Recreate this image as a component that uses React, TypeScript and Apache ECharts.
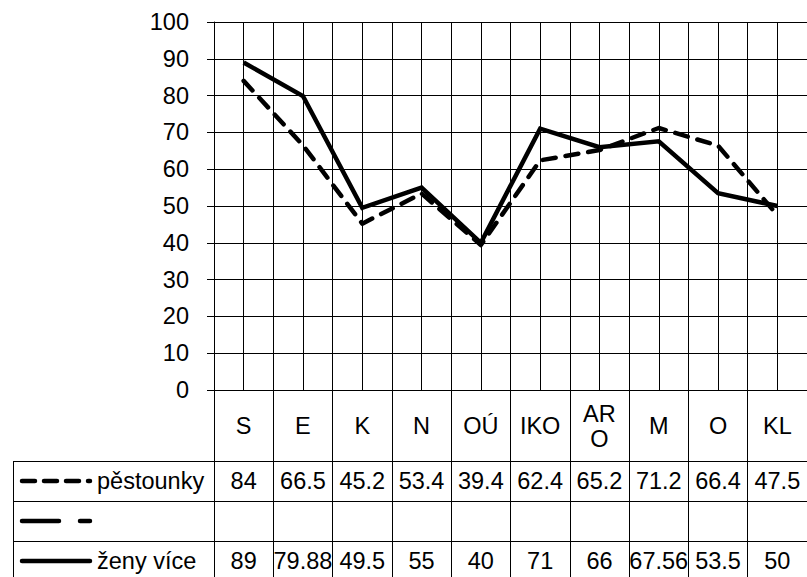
import React, { useEffect, useRef } from "react";
import * as echarts from "echarts";

const categories = ["S", "E", "K", "N", "OÚ", "IKO", "AR\nO", "M", "O", "KL"];
const pestounky = [84, 66.5, 45.2, 53.4, 39.4, 62.4, 65.2, 71.2, 66.4, 47.5];
const unnamedSeries: (number | null)[] = [null, null, null, null, null, null, null, null, null, null];
const zenyVice = [89, 79.88, 49.5, 55, 40, 71, 66, 67.56, 53.5, 50];
const seriesNames = ["pěstounky", "", "ženy více"];
const yMin = 0;
const yMax = 100;
const yInterval = 10;

const FONT = "'Liberation Sans', Arial, sans-serif";
const FS = 23.5;

export default function App() {
  const ref = useRef<HTMLDivElement>(null);

  useEffect(() => {
    if (!ref.current) return;
    const chart = echarts.init(ref.current, undefined, { renderer: "svg" });

    const gridLeft = 214;
    const gridTop = 22;
    const gridWidth = 598;
    const gridHeight = 368;
    const axisY = gridTop + gridHeight;
    const rowH = 40;
    const catRowBottom = 461;
    const tableLeft = 13;
    const legendLineX1 = 22;
    const legendLineX2 = 90;
    const legendTextX = 97;

    const hidden = {
      axisLine: { show: false },
      axisTick: { show: false },
      splitLine: { show: false },
    };

    const tableLines: any[] = [0, 1, 2].map((i) => ({
      type: "line",
      shape: { x1: tableLeft, y1: catRowBottom + i * rowH + 0.5, x2: 807, y2: catRowBottom + i * rowH + 0.5 },
      style: { stroke: "#000", lineWidth: 1 },
    }));
    tableLines.push({
      type: "line",
      shape: { x1: tableLeft + 0.5, y1: catRowBottom, x2: tableLeft + 0.5, y2: 577 },
      style: { stroke: "#000", lineWidth: 1 },
    });

    const legendDash = [[13, 9], [37, 21, 10, 21], []];
    const legendItems: any[] = [];
    seriesNames.forEach((name, i) => {
      const cy = catRowBottom + i * rowH + rowH / 2;
      legendItems.push({
        type: "line",
        shape: { x1: legendLineX1, y1: cy, x2: legendLineX2, y2: cy },
        style: {
          stroke: "#000",
          lineWidth: 4.5,
          lineCap: "round",
          lineDash: legendDash[i].length ? legendDash[i] : null,
        },
      });
      if (name) {
        legendItems.push({
          type: "text",
          x: legendTextX,
          y: cy,
          style: {
            text: name,
            font: `${FS}px ${FONT}`,
            fill: "#000",
            textAlign: "left",
            textVerticalAlign: "middle",
          },
        });
      }
    });

    const tableAxis = (values: number[], margin: number) => ({
      type: "category",
      gridIndex: 0,
      position: "bottom",
      data: values.map((v) => String(v)),
      boundaryGap: true,
      ...hidden,
      axisLabel: {
        show: true,
        interval: 0,
        margin,
        fontSize: FS,
        fontFamily: FONT,
        color: "#000",
        verticalAlign: "middle",
      },
    });

    chart.setOption({
      animation: false,
      backgroundColor: "#fff",
      textStyle: { fontFamily: FONT },
      grid: { left: gridLeft, top: gridTop, width: gridWidth, height: gridHeight, containLabel: false },
      xAxis: [
        {
          type: "category",
          data: categories,
          boundaryGap: true,
          position: "bottom",
          axisLine: { show: true, onZero: false, lineStyle: { color: "#000", width: 1 } },
          axisTick: {
            show: true,
            interval: 0,
            alignWithLabel: false,
            length: 577 - axisY,
            lineStyle: { color: "#000", width: 1 },
          },
          axisLabel: {
            interval: 0,
            margin: 36,
            fontSize: FS,
            fontFamily: FONT,
            color: "#000",
            verticalAlign: "middle",
            lineHeight: 25,
          },
          splitLine: { show: false },
        },
        {
          type: "value",
          min: -0.5,
          max: 9.5,
          interval: 0.5,
          position: "bottom",
          axisLine: { show: false },
          axisTick: { show: false },
          axisLabel: { show: false },
          splitLine: { show: true, lineStyle: { color: "#000", width: 1 } },
        },
        tableAxis(pestounky, 91),
        tableAxis(zenyVice, 171),
      ],
      yAxis: {
        type: "value",
        min: yMin,
        max: yMax,
        interval: yInterval,
        axisLine: { show: true, onZero: false, lineStyle: { color: "#000", width: 1 } },
        axisTick: { show: true, length: 7, lineStyle: { color: "#000", width: 1 } },
        axisLabel: { margin: 25, fontSize: FS, fontFamily: FONT, color: "#000" },
        splitLine: { show: true, lineStyle: { color: "#000", width: 1 } },
      },
      series: [
        {
          name: seriesNames[0],
          type: "line",
          xAxisIndex: 0,
          data: pestounky,
          symbol: "none",
          lineStyle: { color: "#000", width: 4.5, type: [13, 10], cap: "round", join: "round" },
          z: 5,
        },
        {
          name: seriesNames[1] || "series2",
          type: "line",
          xAxisIndex: 0,
          data: unnamedSeries,
          symbol: "none",
          lineStyle: { color: "#000", width: 4.5, type: [37, 21, 10, 21], cap: "round" },
          z: 5,
        },
        {
          name: seriesNames[2],
          type: "line",
          xAxisIndex: 0,
          data: zenyVice,
          symbol: "none",
          lineStyle: { color: "#000", width: 4.5, join: "miter" },
          z: 6,
        },
      ],
      graphic: [...tableLines, ...legendItems],
    });

    return () => chart.dispose();
  }, []);

  return (
    <div
      ref={ref}
      style={{ position: "absolute", left: 0, top: 0, width: 807, height: 577, background: "#fff" }}
    />
  );
}
